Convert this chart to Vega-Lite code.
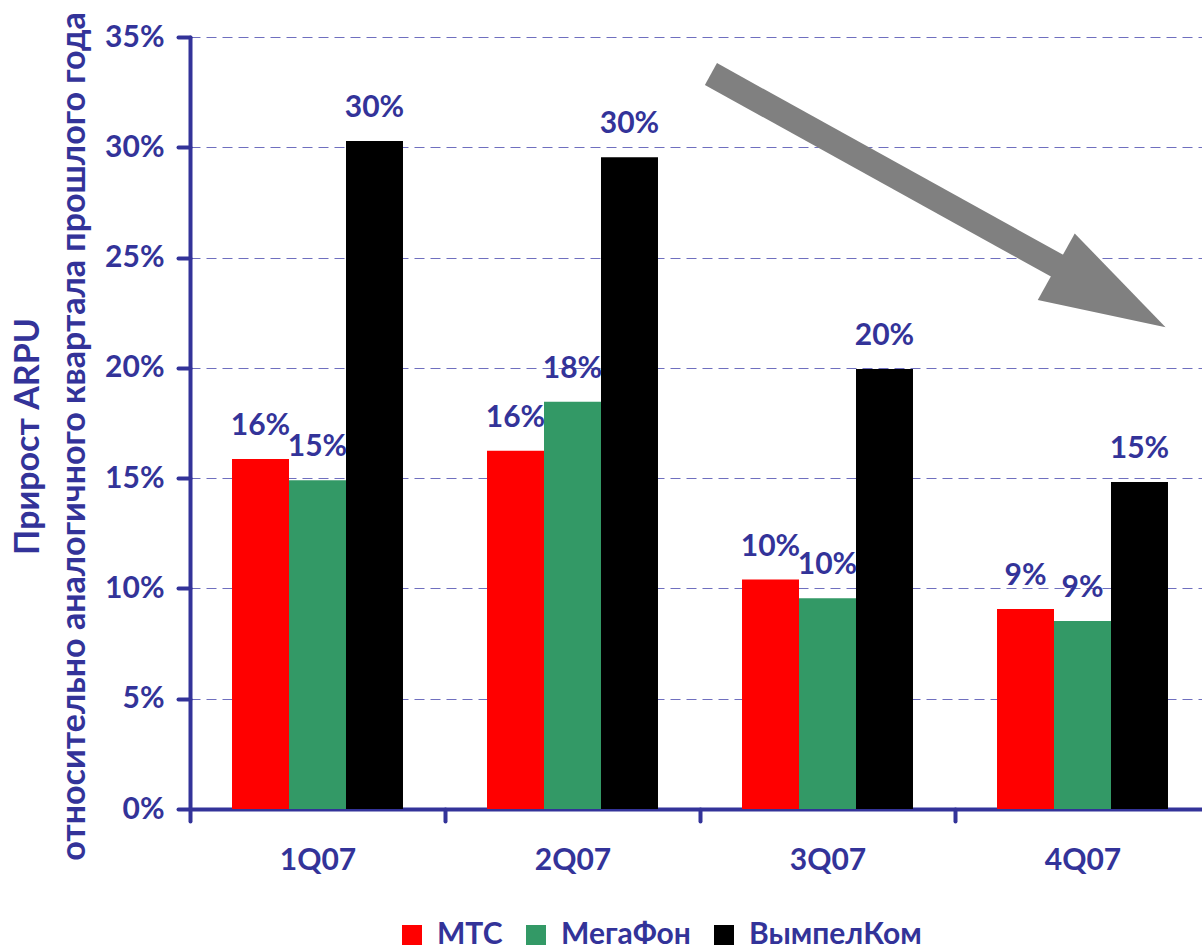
{
  "$schema": "https://vega.github.io/schema/vega-lite/v6.json",
  "width": 1012,
  "height": 772,
  "autosize": "none",
  "padding": {"left": 190, "top": 37, "right": 0, "bottom": 143},
  "background": "white",
  "datasets": {
    "bars": [
      {"quarter": "1Q07", "company": "МТС", "value": 0.1587},
      {"quarter": "1Q07", "company": "МегаФон", "value": 0.1491},
      {"quarter": "1Q07", "company": "ВымпелКом", "value": 0.3028},
      {"quarter": "2Q07", "company": "МТС", "value": 0.1624},
      {"quarter": "2Q07", "company": "МегаФон", "value": 0.1846},
      {"quarter": "2Q07", "company": "ВымпелКом", "value": 0.2955},
      {"quarter": "3Q07", "company": "МТС", "value": 0.1040},
      {"quarter": "3Q07", "company": "МегаФон", "value": 0.0955},
      {"quarter": "3Q07", "company": "ВымпелКом", "value": 0.1995},
      {"quarter": "4Q07", "company": "МТС", "value": 0.0907},
      {"quarter": "4Q07", "company": "МегаФон", "value": 0.0852},
      {"quarter": "4Q07", "company": "ВымпелКом", "value": 0.1483}
    ],
    "arrowShaft": [
      {"ax": 2.059, "value": 0.3332},
      {"ax": 3.459, "value": 0.2443}
    ],
    "arrowHead": [
      {"ax": 3.640, "value": 0.2321}
    ]
  },
  "config": {
    "view": {"stroke": null},
    "font": "Lato",
    "axis": {
      "domainColor": "#333399",
      "domainWidth": 4,
      "domainCap": "round",
      "tickColor": "#333399",
      "tickWidth": 4,
      "tickCap": "round",
      "tickSize": 12,
      "labelFont": "Lato",
      "labelFontWeight": "bold",
      "labelFontSize": 30,
      "labelColor": "#333399",
      "titleFont": "Lato",
      "titleFontWeight": "bold",
      "titleColor": "#333399"
    }
  },
  "layer": [
    {
      "data": {"name": "bars"},
      "mark": {"type": "bar"},
      "encoding": {
        "x": {
          "field": "quarter",
          "type": "nominal",
          "scale": {"paddingInner": 0, "paddingOuter": 0, "range": [0, 1020]},
          "axis": {"title": null, "labelAngle": 0, "tickBand": "extent", "labelPadding": 24, "grid": false}
        },
        "xOffset": {
          "field": "company",
          "type": "nominal",
          "scale": {"domain": ["МТС", "МегаФон", "ВымпелКом"], "paddingInner": 0, "paddingOuter": 0.737}
        },
        "y": {
          "field": "value",
          "type": "quantitative",
          "scale": {"domain": [0, 0.35], "nice": false},
          "axis": {
            "format": ".0%",
            "values": [0, 0.05, 0.1, 0.15, 0.2, 0.25, 0.3, 0.35],
            "labelPadding": 14,
            "grid": true,
            "gridColor": "#6f6fbf",
            "gridWidth": 1,
            "gridDash": [10, 6],
            "title": ["Прирост ARPU", "относительно аналогичного квартала прошлого года"],
            "titleFontSize": 34,
            "titleLineHeight": 46,
            "titlePadding": 13,
            "titleY": 399
          }
        },
        "color": {
          "field": "company",
          "type": "nominal",
          "scale": {"domain": ["МТС", "МегаФон", "ВымпелКом"], "range": ["#ff0000", "#339966", "#000000"]},
          "legend": {
            "title": null,
            "orient": "none",
            "direction": "horizontal",
            "legendX": 207,
            "legendY": 883,
            "padding": 0,
            "symbolType": "square",
            "symbolSize": 400,
            "symbolStrokeWidth": 0,
            "symbolOpacity": 1,
            "labelFont": "Lato",
            "labelFontWeight": "bold",
            "labelFontSize": 30,
            "labelColor": "#333399",
            "labelOffset": 10,
            "columnPadding": 18,
            "labelLimit": 400
          }
        }
      }
    },
    {
      "data": {"name": "bars"},
      "mark": {"type": "text", "baseline": "alphabetic", "dy": -24, "fontSize": 30, "fontWeight": "bold", "color": "#333399", "font": "Lato"},
      "encoding": {
        "x": {
          "field": "quarter",
          "type": "nominal",
          "scale": {"paddingInner": 0, "paddingOuter": 0, "range": [0, 1020]},
          "axis": null
        },
        "xOffset": {
          "field": "company",
          "type": "nominal",
          "scale": {"domain": ["МТС", "МегаФон", "ВымпелКом"], "paddingInner": 0, "paddingOuter": 0.737}
        },
        "y": {"field": "value", "type": "quantitative", "scale": {"domain": [0, 0.35], "nice": false}},
        "text": {"field": "value", "type": "quantitative", "format": ".0%"}
      }
    },
    {
      "data": {"name": "arrowShaft"},
      "mark": {"type": "line", "stroke": "#808080", "strokeWidth": 25, "strokeCap": "butt"},
      "encoding": {
        "x": {"field": "ax", "type": "quantitative", "scale": {"domain": [0, 4], "nice": false, "zero": false}, "axis": null},
        "y": {"field": "value", "type": "quantitative", "scale": {"domain": [0, 0.35], "nice": false}}
      }
    },
    {
      "data": {"name": "arrowHead"},
      "mark": {"type": "point", "shape": "M0,-1L0.61,1L-0.61,1Z", "size": 15625, "angle": 119, "filled": true, "color": "#808080", "opacity": 1, "strokeWidth": 0},
      "encoding": {
        "x": {"field": "ax", "type": "quantitative", "scale": {"domain": [0, 4], "nice": false, "zero": false}, "axis": null},
        "y": {"field": "value", "type": "quantitative", "scale": {"domain": [0, 0.35], "nice": false}}
      }
    }
  ],
  "resolve": {"scale": {"x": "independent"}, "axis": {"x": "independent"}}
}
